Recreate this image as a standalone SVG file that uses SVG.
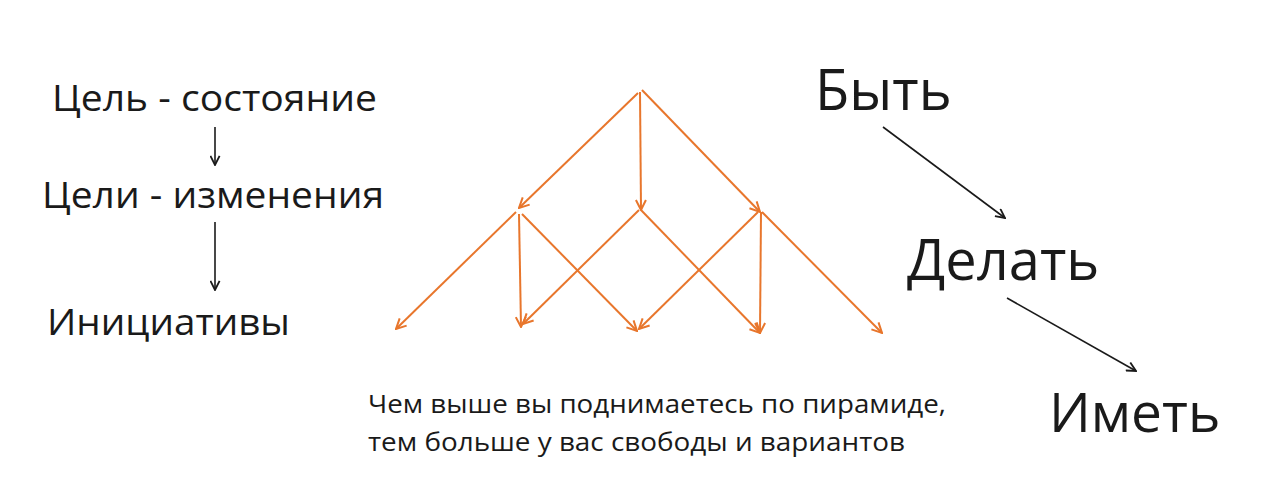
<svg xmlns="http://www.w3.org/2000/svg" width="1272" height="494" viewBox="0 0 1272 494">
<style>
text{font-family:"Open Sans","Noto Sans","DejaVu Sans",sans-serif;fill:#1a1a1a}
.o{stroke:#E8762C;stroke-width:2;fill:none;marker-end:url(#ao)}
.k{stroke:#1a1a1a;stroke-width:1.6;fill:none;marker-end:url(#ak)}
</style>
<defs>
<marker id="ao" viewBox="0 0 12 12" refX="11" refY="6" markerWidth="12" markerHeight="12" markerUnits="userSpaceOnUse" orient="auto">
<path d="M1,1 L11,6 L1,11" fill="none" stroke="#E8762C" stroke-width="2"/>
</marker>
<marker id="ak" viewBox="0 0 12 12" refX="11" refY="6" markerWidth="11" markerHeight="11" markerUnits="userSpaceOnUse" orient="auto">
<path d="M1,1 L11,6 L1,11" fill="none" stroke="#1a1a1a" stroke-width="2"/>
</marker>
</defs>
<rect width="1272" height="494" fill="#fff"/>
<g id="n-state"><text x="52" y="111" font-size="37" textLength="325" lengthAdjust="spacingAndGlyphs">Цель - состояние</text></g>
<g id="n-change"><text x="42" y="208" font-size="37" textLength="342" lengthAdjust="spacingAndGlyphs">Цели - изменения</text></g>
<g id="n-init"><text x="47" y="335" font-size="37" textLength="243" lengthAdjust="spacingAndGlyphs">Инициативы</text></g>
<g id="n-be"><text x="815" y="110" font-size="56">Быть</text></g>
<g id="n-do"><text x="907" y="280" font-size="56">Делать</text></g>
<g id="n-have"><text x="1049" y="432" font-size="55">Иметь</text></g>
<g id="caption">
<text x="368" y="413" font-size="26" textLength="578" lengthAdjust="spacingAndGlyphs">Чем выше вы поднимаетесь по пирамиде,</text>
<text x="368" y="451" font-size="26" textLength="537" lengthAdjust="spacingAndGlyphs">тем больше у вас свободы и вариантов</text>
</g>
<g id="connectors">
<path class="k" d="M215,127 L215,165"/>
<path class="k" d="M215,222 L215,290"/>
<path class="k" d="M883,127 L1005,218"/>
<path class="k" d="M1007,298 L1136,371"/>
<path class="o" d="M638,93 L519,208"/>
<path class="o" d="M640,92 L641,210"/>
<path class="o" d="M642,90 L760,212"/>
<path class="o" d="M516,212 L396,329"/>
<path class="o" d="M519,214 L521,327"/>
<path class="o" d="M522,214 L637,331"/>
<path class="o" d="M639,210 L523,324"/>
<path class="o" d="M641,210 L760,333"/>
<path class="o" d="M758,212 L639,329"/>
<path class="o" d="M761,212 L760,333"/>
<path class="o" d="M762,212 L882,333"/>
</g>
</svg>
